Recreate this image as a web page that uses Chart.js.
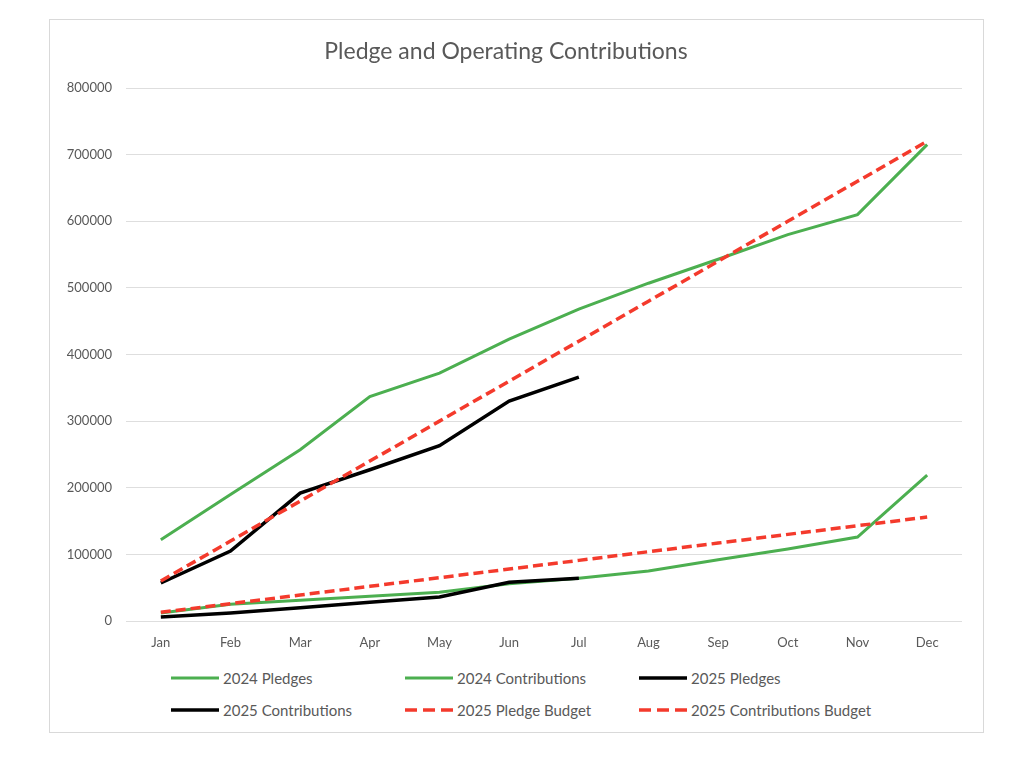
<!DOCTYPE html>
<html>
<head>
<meta charset="utf-8">
<script src="https://cdn.jsdelivr.net/npm/chart.js@4"></script>
<style>
  body { margin: 0; background: #fff; font-family: Lato, "Open Sans", sans-serif; }
  #frame { position: absolute; left: 49px; top: 19px; width: 933px; height: 712px; border: 1px solid #d9d9d9; }
  #chart { position: absolute; left: 0; top: 0; }
  .item { position: absolute; height: 20px; display: flex; align-items: center; color: #595959; font-size: 15px; white-space: nowrap; }
  .item svg { margin-right: 4px; }
</style>
</head>
<body>
<div id="frame">
  <canvas id="chart" width="933" height="640"></canvas>
  <div id="legend"></div>
</div>
<script>
  const months = ['Jan', 'Feb', 'Mar', 'Apr', 'May', 'Jun', 'Jul', 'Aug', 'Sep', 'Oct', 'Nov', 'Dec'];

  const pledges2024 = [122000, 190000, 257000, 337000, 372000, 423000, 468000, 507000, 543000, 580000, 610000, 715000];
  const contrib2024 = [12000, 25000, 31000, 37000, 43000, 56000, 64000, 75000, 92000, 108000, 126000, 219000];
  const pledges2025 = [57000, 105000, 192000, 227000, 263000, 330000, 366000];
  const contrib2025 = [6000, 12000, 20000, 28000, 36000, 58000, 64000];
  const pledgeBudget2025 = [60000, 120000, 180000, 240000, 300000, 360000, 420000, 480000, 540000, 600000, 660000, 720000];
  const contribBudget2025 = [13000, 26000, 39000, 52000, 65000, 78000, 91000, 104000, 117000, 130000, 143000, 156000];

  const seriesNames = ['2024 Pledges', '2024 Contributions', '2025 Pledges', '2025 Contributions', '2025 Pledge Budget', '2025 Contributions Budget'];

  const green = '#4caf50';
  const black = '#000000';
  const red = '#f43a2c';
  const font = 'Lato, "Open Sans", sans-serif';

  function line(i, data, color, width, dash) {
    return {
      label: seriesNames[i],
      data: data,
      borderColor: color,
      backgroundColor: color,
      borderWidth: width,
      borderDash: dash || [],
      pointRadius: 0,
      tension: 0,
      fill: false,
      order: 6 - i
    };
  }

  const datasets = [
    line(0, pledges2024, green, 3),
    line(1, contrib2024, green, 3),
    line(2, pledges2025, black, 3.5),
    line(3, contrib2025, black, 3.5),
    line(4, pledgeBudget2025, red, 3.5, [10, 5]),
    line(5, contribBudget2025, red, 3.5, [10, 5])
  ];

  new Chart(document.getElementById('chart'), {
    type: 'line',
    data: { labels: months, datasets: datasets },
    options: {
      responsive: false,
      animation: false,
      layout: { padding: { left: 0, right: 21, top: 0, bottom: 0 } },
      plugins: {
        legend: { display: false },
        tooltip: { enabled: false },
        title: {
          display: true,
          text: 'Pledge and Operating Contributions',
          color: '#595959',
          font: { family: font, size: 23, weight: 'normal' },
          padding: { top: 17.4, bottom: 23 }
        }
      },
      scales: {
        x: {
          offset: true,
          grid: { display: false, drawTicks: false },
          border: { display: false },
          ticks: { color: '#595959', font: { family: font, size: 13 }, padding: 14, maxRotation: 0, autoSkip: false },
          afterFit(s) { s.height = 39; }
        },
        y: {
          min: 0,
          max: 800000,
          grid: { color: '#dedede', lineWidth: 1, drawTicks: false },
          border: { display: false },
          ticks: { stepSize: 100000, color: '#595959', font: { family: font, size: 13 }, padding: 14, callback: v => String(v) },
          afterFit(s) { s.width = 76; }
        }
      }
    }
  });

  // legend laid out in columns like the spreadsheet one
  const legend = document.getElementById('legend');
  const colX = [121, 355, 589];
  const rowY = [648, 680];
  datasets.forEach((ds, i) => {
    const item = document.createElement('div');
    item.className = 'item';
    item.style.left = colX[i % 3] + 'px';
    item.style.top = rowY[Math.floor(i / 3)] + 'px';
    const dash = ds.borderDash.length ? 'stroke-dasharray="12 6"' : '';
    item.innerHTML = '<svg width="48" height="6"><line x1="0" y1="3" x2="48" y2="3" stroke="' + ds.borderColor +
      '" stroke-width="' + ds.borderWidth + '" ' + dash + '/></svg><span>' + ds.label + '</span>';
    legend.appendChild(item);
  });
</script>
</body>
</html>
